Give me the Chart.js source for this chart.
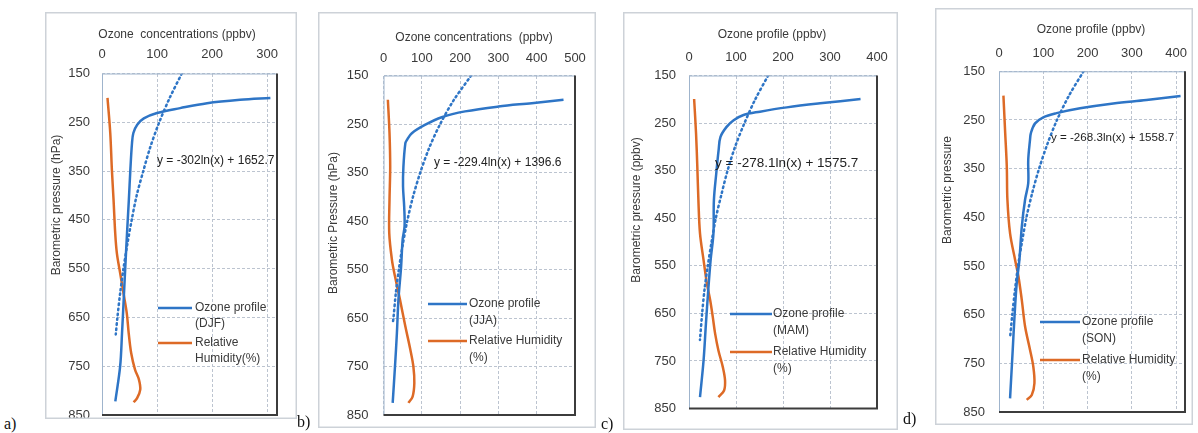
<!DOCTYPE html>
<html><head><meta charset="utf-8">
<script src="https://cdn.jsdelivr.net/npm/chart.js@4.4.0/dist/chart.umd.min.js"></script>
<style>
body{margin:0;background:#fff;width:1198px;height:433px;overflow:hidden;position:relative}
canvas{position:absolute}
.lab{position:absolute;font-family:"Liberation Serif","DejaVu Serif",serif;font-size:16px;color:#111;line-height:16px}
</style></head><body>
<canvas id="ca"></canvas><canvas id="cb"></canvas><canvas id="cc"></canvas><canvas id="cd"></canvas>
<div class="lab" style="left:4px;top:416px">a)</div>
<div class="lab" style="left:297px;top:414px">b)</div>
<div class="lab" style="left:601px;top:416px">c)</div>
<div class="lab" style="left:903px;top:411px">d)</div>
<script>
// ---------- DATA ----------
const pressureTicks = [150, 250, 350, 450, 550, 650, 750, 850];
const ozoneTicksA = [0, 100, 200, 300];
const ozoneTicksB = [0, 100, 200, 300, 400, 500];
const ozoneTicksC = [0, 100, 200, 300, 400];
const ozoneTicksD = [0, 100, 200, 300, 400];

// a) DJF
const djfOzoneP = [200, 204, 211, 221, 231, 242, 255, 272, 293, 348, 409, 477, 545, 614, 682, 750, 822];
const djfOzoneV = [306, 251, 191, 142, 100, 76, 64, 57, 54.5, 51.5, 48.8, 45.5, 42.4, 39.4, 36.4, 33, 24.2];
const djfRhP = [200, 272, 348, 409, 477, 518, 559, 600, 641, 682, 723, 757, 777, 798, 815, 824];
const djfRhV = [10, 15, 18, 21, 24, 27, 33, 39, 45, 48.5, 53, 60, 67, 69.5, 64, 57.5];
const djfTrendP = [150, 200, 250, 300, 350, 400, 450, 500, 550, 600, 650, 685];
const djfTrendV = [145, 123, 104, 88, 75, 63, 54, 46, 39, 33, 28, 25];

// b) JJA
const jjaOzoneP = [200, 207, 214, 224, 236, 252, 269, 283, 290, 338, 379, 420, 461, 488, 544, 612, 681, 750, 825];
const jjaOzoneV = [470, 387, 300, 213, 152, 108, 74, 61, 57, 52, 51, 54, 55, 50, 46, 39, 35, 30, 24];
const jjaRhP = [200, 269, 338, 406, 475, 530, 564, 612, 667, 715, 750, 784, 812, 825];
const jjaRhV = [11.4, 15.7, 17.5, 15.7, 15, 22, 30, 43, 57, 70, 78, 80.5, 76, 65];
const jjaTrendP = [150, 200, 250, 300, 350, 400, 450, 500, 550, 600, 650, 662];
const jjaTrendV = [229, 184, 148, 119, 96, 77, 62, 50, 40, 32, 26, 24];

// c) MAM
const mamOzoneP = [199.5, 208.5, 217, 226, 233, 244, 258, 279, 307, 356, 412, 482, 538, 601, 672, 749, 826];
const mamOzoneV = [365, 279, 208, 151, 116, 95, 80, 67, 63, 58, 53, 52, 46, 41, 36, 31, 23.4];
const mamRhP = [199.5, 272, 342, 412, 482, 538, 587, 622, 657, 692, 728, 763, 791, 812, 826];
const mamRhV = [10.9, 15, 17.7, 20, 23.4, 31, 38, 45, 50.5, 55.5, 62.6, 72, 76.7, 74.6, 62.6];
const mamTrendP = [150, 200, 250, 300, 350, 400, 450, 500, 550, 600, 650, 706];
const mamTrendV = [168.5, 141, 118, 98, 82, 69, 57, 48, 40, 33, 28, 23.3];

// d) SON
const sonOzoneP = [200.7, 209, 216, 226, 236, 244.5, 257, 277, 291, 332, 380, 413, 469, 538, 586, 654, 722, 822];
const sonOzoneV = [410, 333, 258, 183, 130, 100, 81.5, 72, 70, 66, 66, 59, 51.5, 46, 40, 35, 31, 25];
const sonRhP = [200, 277, 346, 414, 483, 538, 572, 620, 675, 722, 757, 791, 815, 825];
const sonRhV = [10, 14, 17.6, 19, 25, 36.5, 44, 51.5, 59, 70, 77.5, 80, 74, 62.6];
const sonTrendP = [150, 200, 250, 300, 350, 400, 450, 500, 550, 600, 650, 697];
const sonTrendV = [191, 158, 131, 109, 90.5, 75, 62, 52, 43, 36, 30, 25];

// ---------- STYLE ----------
const BLUE = '#2e75c6', ORANGE = '#dd6a26', GRID = '#bcc4d0', TXT = '#3a3a3a';
const FONT = '"Liberation Sans", Arial, sans-serif';

function toXY(ps, vs) { return ps.map((p, i) => ({ x: vs[i], y: p })); }

const deco = {
  id: 'deco',
  afterDraw(chart, args, o) {
    const ctx = chart.ctx, ca = chart.chartArea, fx = o.fx, fy = o.fy;
    ctx.save();
    ctx.strokeStyle = '#cdd2d8'; ctx.lineWidth = 1.5;
    ctx.strokeRect(0.75, 0.75, chart.width - 1.5, chart.height - 1.5);
    ctx.strokeStyle = '#9fb4cc'; ctx.lineWidth = 1;
    ctx.beginPath(); ctx.moveTo(ca.left + 0.5, ca.bottom); ctx.lineTo(ca.left + 0.5, ca.top + 0.5); ctx.lineTo(ca.right, ca.top + 0.5); ctx.stroke();
    ctx.strokeStyle = '#3c3c3c'; ctx.lineWidth = 2;
    ctx.beginPath(); ctx.moveTo(ca.right, ca.top); ctx.lineTo(ca.right, ca.bottom); ctx.lineTo(ca.left, ca.bottom); ctx.stroke();
    ctx.fillStyle = TXT; ctx.textBaseline = 'middle';
    ctx.font = '12px ' + FONT; ctx.textAlign = 'center';
    ctx.fillText(o.xTitle, o.xt[0] - fx, o.xt[1] - fy);
    ctx.save(); ctx.translate(o.yt[0] - fx, o.yt[1] - fy); ctx.rotate(-Math.PI / 2);
    ctx.fillText(o.yTitle, 0, 0); ctx.restore();
    ctx.fillStyle = '#222'; ctx.textAlign = 'left'; ctx.font = o.eqSize + 'px ' + FONT;
    ctx.fillText(o.eq, o.eqPos[0] - fx, o.eqPos[1] - fy);
    ctx.font = '12px ' + FONT; ctx.fillStyle = TXT;
    o.legend.forEach((it, i) => {
      const ds = chart.data.datasets[i];
      const y = o.legY[i] - fy;
      ctx.strokeStyle = ds.borderColor; ctx.lineWidth = 2.5;
      ctx.beginPath(); ctx.moveTo(o.legX[0] - fx, y); ctx.lineTo(o.legX[1] - fx, y); ctx.stroke();
      it.forEach((line, k) => ctx.fillText(line, o.legX[2] - fx, y + k * o.legLh));
    });
    ctx.restore();
  }
};

function makeChart(id, P) {
  const el = document.getElementById(id);
  el.width = P.frame[2]; el.height = P.frame[3];
  el.style.left = P.frame[0] + 'px'; el.style.top = P.frame[1] + 'px';
  const yW = P.plot[0] - P.frame[0], xH = P.plot[1] - P.frame[1];
  const padR = P.frame[0] + P.frame[2] - P.plot[2], padB = P.frame[1] + P.frame[3] - P.plot[3];
  new Chart(el, {
    type: 'scatter',
    data: { datasets: [
      { label: P.legend[0].join(' '), data: toXY(P.oz[0], P.oz[1]), showLine: true, borderColor: BLUE, borderWidth: 2.5, pointRadius: 0, tension: 0.35, order: 2 },
      { label: P.legend[1].join(' '), data: toXY(P.rh[0], P.rh[1]), showLine: true, borderColor: ORANGE, borderWidth: 2.5, pointRadius: 0, tension: 0.35, order: 3 },
      { label: 'Log. trend', data: toXY(P.tr[0], P.tr[1]), showLine: true, borderColor: BLUE, borderWidth: 2.5, borderDash: [1.5, 3.5], borderCapStyle: 'round', pointRadius: 0, tension: 0.3, order: 1 }
    ]},
    options: {
      responsive: false, animation: false, events: [],
      layout: { padding: { left: 0, top: 0, right: padR, bottom: padB } },
      plugins: {
        legend: { display: false }, tooltip: { enabled: false },
        deco: { fx: P.frame[0], fy: P.frame[1], xTitle: P.xTitle, xt: P.xt, yTitle: P.yTitle, yt: P.yt,
                eq: P.eq, eqPos: P.eqPos, eqSize: P.eqSize, legend: P.legend, legX: P.legX, legY: P.legY, legLh: P.legLh }
      },
      scales: {
        x: { type: 'linear', position: 'top', min: 0, max: P.xMax,
          ticks: { padding: P.xPad, color: TXT, font: { size: 13, family: FONT }, maxRotation: 0 },
          afterBuildTicks: s => { s.ticks = P.xTicks.map(v => ({ value: v })); },
          afterFit: s => { s.height = xH; s.paddingLeft = 0; s.paddingRight = 0; },
          grid: { color: GRID, drawTicks: false, lineWidth: 1 }, border: { display: false, dash: [3, 2] } },
        y: { type: 'linear', reverse: true, min: 150, max: 850,
          ticks: { padding: P.yPad, color: TXT, font: { size: 13, family: FONT } },
          afterBuildTicks: s => { s.ticks = pressureTicks.map(v => ({ value: v })); },
          afterFit: s => { s.width = yW; s.paddingTop = 0; s.paddingBottom = 0; },
          grid: { color: GRID, drawTicks: false, lineWidth: 1 }, border: { display: false, dash: [3, 2] } }
      }
    },
    plugins: [deco]
  });
}

makeChart('ca', {
  frame: [45, 12, 252, 407], plot: [102, 73.5, 277, 415], xMax: 318, xTicks: ozoneTicksA, xPad: 11, yPad: 12,
  oz: [djfOzoneP, djfOzoneV], rh: [djfRhP, djfRhV], tr: [djfTrendP, djfTrendV],
  xTitle: 'Ozone  concentrations (ppbv)', xt: [177, 35], yTitle: 'Barometric pressure (hPa)', yt: [57, 205],
  eq: 'y = -302ln(x) + 1652.7', eqPos: [157, 161], eqSize: 12,
  legend: [['Ozone profile', '(DJF)'], ['Relative', 'Humidity(%)']], legX: [158, 192, 195], legY: [308, 343], legLh: 16
});
makeChart('cb', {
  frame: [318, 12, 278, 416], plot: [383.5, 75.5, 575, 415], xMax: 500, xTicks: ozoneTicksB, xPad: 9, yPad: 15,
  oz: [jjaOzoneP, jjaOzoneV], rh: [jjaRhP, jjaRhV], tr: [jjaTrendP, jjaTrendV],
  xTitle: 'Ozone concentrations  (ppbv)', xt: [474, 37.5], yTitle: 'Barometric Pressure (hPa)', yt: [334, 223],
  eq: 'y = -229.4ln(x) + 1396.6', eqPos: [434, 163], eqSize: 12,
  legend: [['Ozone profile', '(JJA)'], ['Relative Humidity', '(%)']], legX: [428, 467, 469], legY: [304, 341], legLh: 17
});
makeChart('cc', {
  frame: [623, 12, 275, 418], plot: [689, 75.5, 877, 408.5], xMax: 400, xTicks: ozoneTicksC, xPad: 10, yPad: 13,
  oz: [mamOzoneP, mamOzoneV], rh: [mamRhP, mamRhV], tr: [mamTrendP, mamTrendV],
  xTitle: 'Ozone profile (ppbv)', xt: [772, 35], yTitle: 'Barometric pressure (ppbv)', yt: [637, 210],
  eq: 'y = -278.1ln(x) + 1575.7', eqPos: [715, 163], eqSize: 13.5,
  legend: [['Ozone profile', '(MAM)'], ['Relative Humidity', '(%)']], legX: [730, 772, 773], legY: [314, 352], legLh: 16.5
});
makeChart('cd', {
  frame: [935, 8, 258, 417], plot: [999, 71.3, 1185, 412], xMax: 420, xTicks: ozoneTicksD, xPad: 10.5, yPad: 14,
  oz: [sonOzoneP, sonOzoneV], rh: [sonRhP, sonRhV], tr: [sonTrendP, sonTrendV],
  xTitle: 'Ozone profile (ppbv)', xt: [1091, 30], yTitle: 'Barometric pressure', yt: [948, 190],
  eq: 'y = -268.3ln(x) + 1558.7', eqPos: [1051, 138], eqSize: 11.6,
  legend: [['Ozone profile', '(SON)'], ['Relative Humidity', '(%)']], legX: [1040, 1080, 1082], legY: [322, 360], legLh: 16.5
});
</script>
</body></html>
